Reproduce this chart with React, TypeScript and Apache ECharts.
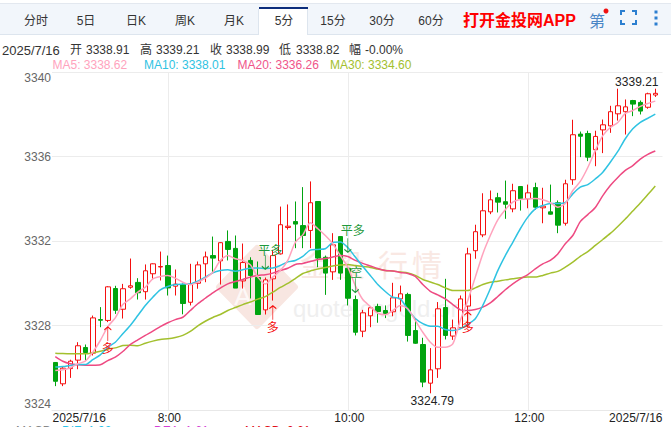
import React, { useEffect, useRef } from "react";
import * as echarts from "echarts";

const tabLabels = ["分时", "5日", "日K", "周K", "月K", "5分", "15分", "30分", "60分"];
const tabCenters = [36, 86, 136, 185, 234, 284, 333, 382, 431];
const yTicks = { min: 3324, max: 3340, step: 4 };
const dateLabel = "2025/7/16";
const timeTickIndex = [15, 39, 63];

// 6:45 is the first bar; bars are five minutes apart
const times: string[] = [];
for (let i = 0; i < 81; i++) {
  const m = 6 * 60 + 45 + i * 5;
  times.push(`${Math.floor(m / 60)}:${String(m % 60).padStart(2, "0")}`);
}

const opens = [3326.25,3325.24,3325.96,3326.36,3326.96,3326.69,3328.28,3328.24,3329.75,3328.77,3329.81,3330.04,3329.60,3330.45,3330.77,3330.84,3329.86,3329.93,3329.10,3330.00,3330.92,3331.31,3331.06,3331.98,3331.65,3330.11,3331.08,3330.27,3328.74,3330.21,3331.39,3332.64,3332.92,3332.73,3332.50,3333.87,3331.23,3330.54,3332.21,3330.71,3329.23,3327.73,3328.46,3328.90,3328.71,3328.65,3329.26,3329.47,3327.76,3327.10,3325.27,3325.95,3328.85,3327.50,3327.89,3328.92,3331.54,3332.29,3333.38,3334.05,3333.86,3333.52,3334.58,3334.00,3334.53,3333.57,3333.38,3333.81,3332.84,3334.90,3337.06,3337.09,3336.32,3337.26,3337.45,3338.02,3338.12,3338.65,3338.56,3338.33,3338.91];
const closes = [3325.36,3325.98,3326.31,3327.04,3326.72,3328.36,3328.25,3329.83,3328.72,3329.74,3329.88,3329.55,3330.59,3330.92,3330.79,3329.78,3329.96,3329.04,3329.96,3330.87,3331.25,3331.19,3331.92,3331.60,3329.77,3330.98,3330.37,3328.52,3330.16,3331.31,3332.77,3332.70,3332.80,3332.26,3333.81,3331.19,3330.48,3331.82,3330.48,3329.29,3327.68,3328.60,3328.84,3328.66,3328.57,3329.31,3329.50,3327.53,3327.16,3325.32,3325.90,3328.79,3327.53,3327.89,3329.26,3331.39,3332.44,3333.43,3333.95,3333.84,3333.74,3334.38,3334.00,3334.28,3333.60,3333.65,3333.27,3332.75,3334.71,3337.03,3336.96,3335.97,3336.95,3337.50,3338.12,3338.40,3338.35,3338.48,3338.15,3338.97,3338.99];
const lows = [3325.13,3325.13,3325.52,3325.93,3326.34,3326.58,3327.92,3328.16,3328.55,3328.33,3329.74,3329.23,3329.23,3330.16,3330.13,3329.42,3329.42,3328.53,3328.95,3329.74,3330.05,3330.45,3329.94,3331.08,3329.77,3329.75,3329.28,3328.52,3328.52,3329.18,3331.36,3332.54,3331.66,3331.66,3331.66,3330.76,3329.45,3330.16,3330.16,3328.95,3327.53,3327.45,3327.92,3328.13,3328.35,3328.44,3328.66,3327.24,3327.13,3325.08,3324.79,3325.52,3327.34,3327.32,3327.84,3327.92,3331.16,3332.18,3333.27,3333.35,3333.05,3333.36,3333.44,3333.55,3333.48,3332.84,3333.25,3332.37,3332.73,3334.66,3335.97,3335.78,3335.54,3336.16,3337.12,3337.70,3337.04,3337.91,3337.99,3338.26,3338.82];
const highs = [3326.27,3326.03,3326.38,3327.21,3327.10,3328.47,3328.87,3329.86,3329.88,3329.97,3331.17,3330.24,3330.89,3330.94,3331.50,3331.31,3330.65,3329.99,3330.92,3331.03,3331.50,3332.21,3331.94,3332.50,3332.26,3331.88,3331.23,3331.03,3330.27,3331.58,3333.63,3333.73,3333.87,3334.55,3334.82,3333.87,3331.31,3332.37,3332.21,3330.84,3329.42,3328.74,3328.84,3329.03,3328.95,3330.02,3329.89,3329.55,3328.32,3327.42,3326.93,3329.11,3330.21,3328.28,3329.42,3331.68,3332.77,3334.26,3334.39,3334.28,3334.86,3334.71,3334.58,3334.67,3334.76,3334.52,3334.67,3333.92,3334.90,3337.74,3337.18,3337.22,3337.22,3337.75,3338.40,3339.21,3338.70,3338.68,3338.65,3339.02,3339.21];

const ma5 = [3325.87,3325.90,3326.00,3326.19,3326.31,3326.74,3327.29,3327.95,3328.36,3328.99,3329.26,3329.58,3329.81,3330.21,3330.32,3330.37,3330.24,3330.05,3329.93,3330.05,3330.24,3330.52,3331.08,3331.31,3331.16,3331.08,3330.87,3330.29,3329.97,3330.29,3330.60,3331.08,3331.94,3332.29,3332.86,3332.58,3332.26,3331.87,3331.31,3330.76,3329.89,3329.23,3328.90,3328.58,3328.51,3328.71,3328.95,3328.79,3328.24,3327.68,3327.21,3326.97,3326.97,3327.13,3328.24,3329.18,3330.29,3331.39,3332.26,3333.00,3333.48,3333.84,3333.96,3334.00,3334.01,3333.95,3333.82,3333.60,3333.78,3334.39,3334.82,3335.48,3336.28,3336.99,3337.37,3337.61,3338.04,3338.18,3338.37,3338.51,3338.62];
const ma10 = [3326.03,3326.06,3326.11,3326.15,3326.15,3326.38,3326.61,3326.97,3327.21,3327.61,3328.00,3328.47,3328.95,3329.34,3329.69,3329.85,3329.94,3329.96,3329.97,3330.10,3330.29,3330.49,3330.60,3330.64,3330.57,3330.64,3330.71,3330.72,3330.70,3330.72,3330.84,3331.01,3331.08,3331.27,3331.57,3331.60,3331.63,3331.93,3331.95,3331.69,3331.24,3330.79,3330.37,3329.94,3329.61,3329.34,3329.26,3328.76,3328.33,3328.09,3327.97,3327.97,3327.81,3327.76,3327.84,3328.05,3328.32,3328.95,3329.74,3330.60,3331.31,3331.94,3332.58,3333.13,3333.52,3333.68,3333.78,3333.78,3333.82,3334.23,3334.55,3334.67,3334.94,3335.26,3335.73,3336.24,3336.84,3337.31,3337.62,3337.81,3338.01];
const ma20 = [3326.53,3326.31,3326.19,3326.14,3326.12,3326.12,3326.14,3326.34,3326.50,3326.77,3327.10,3327.32,3327.53,3327.73,3327.95,3328.13,3328.28,3328.39,3328.71,3329.03,3329.29,3329.55,3329.77,3329.97,3330.08,3330.18,3330.29,3330.37,3330.40,3330.48,3330.60,3330.71,3330.89,3330.94,3331.03,3331.12,3331.17,3331.24,3331.31,3331.27,3331.08,3330.94,3330.82,3330.70,3330.60,3330.58,3330.51,3330.46,3330.32,3329.94,3329.62,3329.45,3329.26,3328.99,3328.74,3328.71,3328.76,3328.87,3329.07,3329.37,3329.69,3329.97,3330.21,3330.41,3330.68,3330.92,3331.08,3331.39,3331.87,3332.26,3332.92,3333.25,3333.59,3334.15,3334.63,3335.01,3335.34,3335.57,3335.88,3336.10,3336.26];
const ma30 = [3326.69,3326.67,3326.66,3326.66,3326.66,3326.71,3326.78,3326.88,3326.94,3327.05,3327.07,3327.04,3327.16,3327.26,3327.34,3327.37,3327.43,3327.53,3327.72,3327.98,3328.20,3328.38,3328.52,3328.71,3328.85,3328.99,3329.11,3329.25,3329.37,3329.58,3329.80,3329.99,3330.22,3330.46,3330.58,3330.67,3330.75,3330.82,3330.86,3330.89,3330.84,3330.79,3330.75,3330.67,3330.60,3330.58,3330.53,3330.49,3330.37,3330.18,3330.06,3329.94,3329.78,3329.66,3329.66,3329.66,3329.78,3329.94,3330.05,3330.10,3330.16,3330.21,3330.26,3330.29,3330.29,3330.37,3330.48,3330.56,3330.76,3331.00,3331.27,3331.50,3331.79,3332.07,3332.36,3332.69,3333.04,3333.42,3333.80,3334.20,3334.60];

const infoSegments: [string, number][] = [["2025/7/16", 2],["开", 70],["3338.91", 86],["高", 140],["3339.21", 156],["收", 210],["3338.99", 226],["低", 279],["3338.82", 296],["幅", 349],["-0.00%", 365]];
const maLegend: [string, number, string][] = [["MA5: 3338.62", 52.5, "#ffa3bd"],["MA10: 3338.01", 144, "#2fc3e2"],["MA20: 3336.26", 237.5, "#f0558a"],["MA30: 3334.60", 330, "#a3c02e"]];
const macdLegend: [string, number, string][] = [["MACD", 16, "#888888"],["DIF: 1.92", 62, "#2cc4ea"],["DEA: 1.61", 154, "#d43fd4"],["MACD: 0.61", 245, "#e0101a"]];

const highIndex = 75, highValue = 3339.21, lowIndex = 50, lowValue = 3324.79;

// [bar index, price at the arrow, price at the text, text, direction]
const signals: [number, number, number, string, "up" | "down"][] = [
  [7, 3327.6, 3326.9, "多", "up"],
  [29, 3328.6, 3327.9, "多", "up"],
  [55, 3328.3, 3327.9, "多", "up"],
  [28, 3331.0, 3331.55, "平多", "down"],
  [39, 3331.8, 3332.45, "平多", "down"],
  [40, 3329.9, 3330.5, "空", "down"],
];

const FONT = '"Liberation Sans","Noto Sans CJK SC",sans-serif';
const RED = "#f50f0f";
const GREEN = "#00a40f";
const ARROW_UP = "path://M5 30L5 1M1 7L5 1L9 7";
const ARROW_DOWN = "path://M5 0L5 29M1 23L5 29L9 23";

function text(s: string, x: number, y: number, color: string, size = 12, extra: any = {}) {
  return { type: "text", silent: true, z: extra.z ?? 10, style: { text: s, x, y, fill: color, fontSize: size, fontFamily: FONT, align: extra.align ?? "left", verticalAlign: "middle", fontWeight: extra.weight ?? "normal", opacity: extra.opacity ?? 1 } };
}

export default function App() {
  const ref = useRef<HTMLDivElement>(null);
  useEffect(() => {
    document.body.style.margin = "0";
    const chart = echarts.init(ref.current!, undefined, { renderer: "svg" });
    const graphics: any[] = [
      { type: "rect", z: -1, silent: true, shape: { x: 0, y: 3, width: 671, height: 31 }, style: { fill: "#f2f6fb", stroke: "none" } },
      { type: "line", z: -1, silent: true, shape: { x1: 0, y1: 3.5, x2: 671, y2: 3.5 }, style: { stroke: "#e3e8ef", lineWidth: 1 } },
      { type: "line", z: -1, silent: true, shape: { x1: 0, y1: 34.5, x2: 671, y2: 34.5 }, style: { stroke: "#dde5ee", lineWidth: 1 } },
      { type: "rect", z: 0, silent: true, shape: { x: 259, y: 7, width: 49, height: 28 }, style: { fill: "#ffffff", stroke: "none" } },
      { type: "rect", z: 1, silent: true, shape: { x: 259, y: 7, width: 49, height: 2 }, style: { fill: "#0c2d7c", stroke: "none" } },
      { type: "line", z: 1, silent: true, shape: { x1: 307.5, y1: 9, x2: 307.5, y2: 35 }, style: { stroke: "#dde5ee", lineWidth: 1 } },
      { type: "line", z: 1, silent: true, shape: { x1: 258.5, y1: 9, x2: 258.5, y2: 35 }, style: { stroke: "#dde5ee", lineWidth: 1 } },
      text("打开金投网APP", 463, 20, "#ff0000", 16, { weight: "bold" }),
      text("第", 597, 21, "#4a86c6", 16, { align: "center" }),
      { type: "circle", z: 11, silent: true, shape: { cx: 606, cy: 11, r: 2.5 }, style: { fill: "#f01010" } },
      ...[[621, 15, 621, 11, 625, 11],[632, 11, 636, 11, 636, 15],[621, 20, 621, 24, 625, 24],[632, 24, 636, 24, 636, 20]].map((p) => ({
        type: "polyline", z: 10, silent: true,
        shape: { points: [[p[0], p[1]], [p[2], p[3]], [p[4], p[5]]] },
        style: { stroke: "#2c7fd0", lineWidth: 2, fill: "none" },
      })),
      ...[12, 18, 24].map((cy) => ({ type: "rect", z: 10, silent: true, shape: { x: 654.5, y: cy - 1.5, width: 3, height: 3 }, style: { fill: "#2c7fd0" } })),
      // watermark
      { type: "polygon", z: -5, silent: true, shape: { points: [[257, 248], [295, 287], [257, 326], [219, 287]] }, style: { fill: "#f8e6e1", stroke: "#f8e6e1", lineWidth: 6, lineJoin: "round" } },
      text("A", 243, 296, "#ffffff", 26, { align: "center", z: -4, opacity: 0.75 }),
      ...[["金", 315], ["投", 350], ["行", 393], ["情", 427]].map(([s, x]) => text(s as string, x as number, 265, "#f9e8e3", 30, { align: "center", z: -4 })),
      text("quote.cngold.org", 293, 308, "#efefef", 24, { z: -4 }),
      // header and bottom texts
      ...tabLabels.map((s, i) => text(s, tabCenters[i], 21, "#333333", 12, { align: "center" })),
      ...infoSegments.map(([s, x]) => text(s, x, 50, "#333333", s === "2025/7/16" ? 13 : 12)),
      ...maLegend.map(([s, x, c]) => text(s, x, 65, c)),
      ...macdLegend.map(([s, x, c]) => text(s, x, 431, c)),
      text(dateLabel, 52.5, 418, "#222222"),
      text(dateLabel, 662.5, 418, "#222222", 12, { align: "right" }),
    ];

    const arrowPoints = signals.map(([i, p, , , dir]) => ({
      coord: [i, p],
      symbol: dir === "up" ? ARROW_UP : ARROW_DOWN,
      symbolSize: [7, 14],
      itemStyle: { color: "none", borderColor: dir === "up" ? RED : "#1f9a3c", borderWidth: 1 },
      label: { show: false },
    }));
    const signalTexts = signals.map(([i, , p, s, dir]) => ({
      coord: [i, p],
      symbol: "circle",
      symbolSize: 0,
      label: {
        show: true, formatter: s, position: "inside", fontSize: 12, fontFamily: FONT,
        color: dir === "up" ? RED : "#1f9a3c",
        offset: [s === "平多" ? 5 : s === "空" ? 1 : 0, 0],
      },
    }));
    const extremes = [
      { coord: [highIndex, highValue], symbol: "circle", symbolSize: 0,
        label: { show: true, formatter: highValue.toFixed(2), position: "top", offset: [19, 4], color: "#222222", fontSize: 12, fontFamily: FONT } },
      { coord: [lowIndex, lowValue], symbol: "circle", symbolSize: 0,
        label: { show: true, formatter: lowValue.toFixed(2), position: "bottom", offset: [2, -3], color: "#222222", fontSize: 12, fontFamily: FONT } },
    ];

    const line = (name: string, data: number[], color: string, width = 1.5) => ({
      name, type: "line", xAxisIndex: 0, yAxisIndex: 0, data, showSymbol: false, symbol: "none", smooth: 0.25, z: 4, silent: true,
      lineStyle: { color, width },
    });

    chart.setOption({
      animation: false,
      tooltip: { show: false },
      grid: [
        { left: 51.55, width: 607.5, top: 72, height: 338 },
        { left: 52, width: 610.5, top: 72, height: 338 },
      ],
      xAxis: [
        {
          type: "category", gridIndex: 0, data: times, boundaryGap: true,
          axisLine: { show: false }, axisTick: { show: false }, splitLine: { show: false },
          axisLabel: { interval: (i: number) => timeTickIndex.includes(i), margin: 2, padding: [0, 0, 0, 3], color: "#222222", fontSize: 12, fontFamily: FONT, hideOverlap: false },
        },
        {
          type: "value", gridIndex: 1, min: 0, max: 1,
          axisLine: { show: true, onZero: false, lineStyle: { color: "#e8e8e8", width: 1 } },
          axisTick: { show: false }, axisLabel: { show: false }, splitLine: { show: false },
        },
      ],
      yAxis: [
        { type: "value", gridIndex: 0, min: yTicks.min, max: yTicks.max, interval: yTicks.step, show: false, splitLine: { show: false } },
        {
          type: "value", gridIndex: 1, min: yTicks.min, max: yTicks.max, interval: yTicks.step,
          axisLine: { show: false }, axisTick: { show: false },
          splitLine: { show: true, lineStyle: { color: "#ececec", width: 1 } },
          axisLabel: { margin: 1, color: "#666666", fontSize: 12, fontFamily: FONT, verticalAlignMinLabel: "bottom", verticalAlignMaxLabel: "top", formatter: (v: number) => String(v) },
        },
      ],
      graphic: { elements: graphics },
      series: [
        {
          name: "k", type: "candlestick", xAxisIndex: 0, yAxisIndex: 0, barWidth: 5, z: 3, silent: true,
          data: opens.map((o, i) => [o, closes[i], lows[i], highs[i]]),
          itemStyle: { color: "#ffffff", color0: GREEN, borderColor: RED, borderColor0: GREEN, borderWidth: 1 },
          markLine: {
            silent: true, symbol: "none", z: 1, animation: false,
            label: { show: false },
            lineStyle: { color: "#ececec", width: 1, type: "solid" },
            data: timeTickIndex.map((i) => ({ xAxis: i })),
          },
          markPoint: { silent: true, z: 8, animation: false, data: [...arrowPoints, ...signalTexts, ...extremes] },
        },
        line("MA30", ma30, "#a3c02e"),
        line("MA20", ma20, "#ee4a82"),
        line("MA10", ma10, "#2fc3e2"),
        line("MA5", ma5, "#ffa3bd"),
      ],
    });
    return () => chart.dispose();
  }, []);
  return <div ref={ref} style={{ width: 671, height: 427, overflow: "hidden", background: "#ffffff" }} />;
}
